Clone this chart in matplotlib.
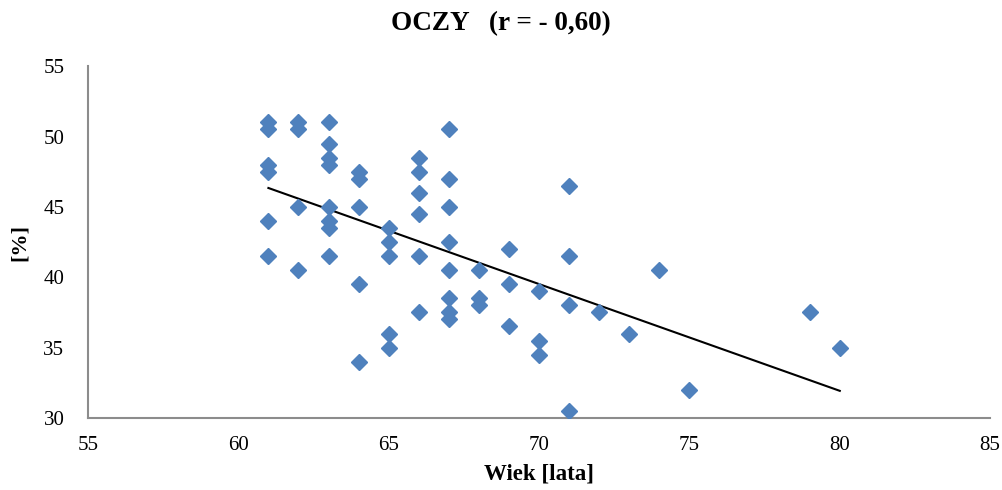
import numpy as np
import matplotlib
matplotlib.use('Agg')
import matplotlib.pyplot as plt

# age [years] and value [%]
wiek = [61, 61, 61, 61, 61, 61,
        62, 62, 62, 62,
        63, 63, 63, 63, 63, 63, 63, 63,
        64, 64, 64, 64, 64,
        65, 65, 65, 65, 65,
        66, 66, 66, 66, 66, 66,
        67, 67, 67, 67, 67, 67, 67, 67,
        68, 68, 68,
        69, 69, 69,
        70, 70, 70,
        71, 71, 71, 71,
        72, 73, 74, 75, 79, 80]
proc = [51, 50.5, 48, 47.5, 44, 41.5,
        51, 50.5, 45, 40.5,
        51, 49.5, 48.5, 48, 45, 44, 43.5, 41.5,
        47.5, 47, 45, 39.5, 34,
        43.5, 42.5, 41.5, 36, 35,
        48.5, 47.5, 46, 44.5, 41.5, 37.5,
        50.5, 47, 45, 42.5, 40.5, 38.5, 37.5, 37,
        40.5, 38.5, 38,
        42, 39.5, 36.5,
        39, 35.5, 34.5,
        46.5, 41.5, 38, 30.5,
        37.5, 36, 40.5, 32, 37.5, 35]
x_ticks = [55, 60, 65, 70, 75, 80, 85]
y_ticks = [30, 35, 40, 45, 50, 55]

plt.rcParams['font.family'] = ['Liberation Serif', 'DejaVu Serif']

fig = plt.figure(figsize=(10.03, 4.9), dpi=100)
ax = fig.add_axes([0.0877, 0.147, 0.8995, 0.718])

ax.plot(wiek, proc, linestyle='none', marker='D', markersize=8.6,
        color='#4F81BD', markeredgecolor='#4F81BD', zorder=3)

# linear trend line
a, b = np.polyfit(wiek, proc, 1)
xl = np.array([min(wiek), max(wiek)])
ax.plot(xl, a * xl + b, color='black', linewidth=1.5, zorder=2)

ax.set_xlim(55, 85)
ax.set_ylim(30, 55)
ax.set_xticks(x_ticks)
ax.set_yticks(y_ticks)
ax.tick_params(axis='both', length=0, labelsize=15)
ax.tick_params(axis='y', pad=17)
ax.tick_params(axis='x', pad=13)

for s in ['top', 'right']:
    ax.spines[s].set_visible(False)
for s in ['left', 'bottom']:
    ax.spines[s].set_color('#8C8C8C')
    ax.spines[s].set_linewidth(1.5)

ax.set_title('OCZY   (r = - 0,60)', fontsize=19.5, fontweight='bold',
             x=0.458, y=1.102, pad=0)
ax.set_xlabel('Wiek [lata]', fontsize=16.5, fontweight='bold')
ax.xaxis.set_label_coords(0.5, -0.128)
ax.set_ylabel('[%]', fontsize=16, fontweight='bold')
ax.yaxis.set_label_coords(-0.064, 0.5)

plt.savefig('out.png', dpi=100)
